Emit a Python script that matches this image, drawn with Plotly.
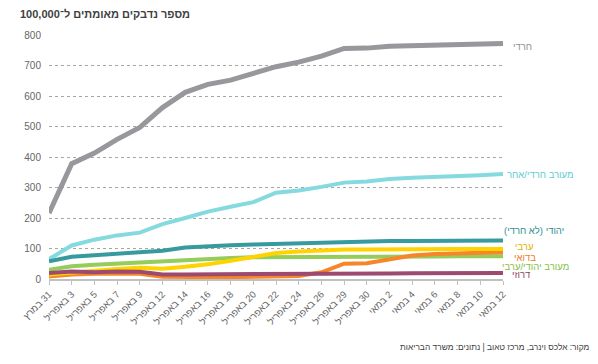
import plotly.graph_objects as go

RLM = "\u200F"

dates = ["31 במרץ", "3 באפריל", "5 באפריל", "7 באפריל", "9 באפריל", "12 באפריל",
         "14 באפריל", "16 באפריל", "18 באפריל", "20 באפריל", "22 באפריל", "24 באפריל",
         "26 באפריל", "29 באפריל", "30 באפריל", "2 במאי", "4 במאי", "6 במאי",
         "8 במאי", "10 במאי", "12 במאי"]

haredi = [216, 378, 413, 458, 497, 562, 612, 638, 652, 672, 696, 711, 731, 756, 757, 763, 765, 766, 769, 770, 772]
mixed_haredi = [65, 110, 129, 143, 152, 180, 200, 221, 237, 252, 283, 290, 302, 316, 320, 328, 332, 334, 339, 340, 344]
jewish = [58, 73, 78, 82, 86, 93, 103, 108, 111, 113, 115, 117, 121, 124, 124, 125, 125, 125, 125, 125, 126]
mixed_jew_arab = [30, 42, 47, 51, 53, 58, 62, 66, 69, 71, 71, 71, 72, 72, 73, 73, 74, 74, 75, 75, 75]
bedouin = [8, 15, 17, 18, 17, 7, 6, 6, 6, 7, 8, 10, 22, 50, 52, 66, 77, 82, 84, 86, 88]
arab = [15, 22, 27, 33, 37, 34, 40, 48, 60, 73, 85, 90, 95, 97, 97, 98, 98, 98, 98, 98, 98]
druze = [20, 25, 22, 25, 24, 15, 15, 15, 16, 16, 17, 17, 17, 18, 18, 18, 19, 19, 19, 19, 20]

title_text = "מספר נדבקים מאומתים ל־100,000"
source_text = "מקור: אלכס וינרב, מרכז טאוב | נתונים: משרד הבריאות"

series = [
    # name, values, line color, label color, width, label xshift, label yshift
    ("חרדי", haredi, "#97989b", "#8f9093", 5, 8, -3),
    ("מעורב חרדי/אחר", mixed_haredi, "#84dade", "#5ecdd2", 4, 2, 0),
    ("יהודי (לא חרדי)", jewish, "#379a9e", "#2f8f94", 4, -1, 10),
    ("מעורב יהודי/ערבי", mixed_jew_arab, "#95cc5a", "#86c04a", 4, -3, -10),
    ("בדואי", bedouin, "#f7852a", "#f07a1e", 4, 9, -5),
    ("ערבי", arab, "#ffd300", "#e2b100", 4, 10, 3),
    ("דרוזי", druze, "#9c4a70", "#8e3d64", 4, 7, -2),
]

fig = go.Figure()
for name, vals, col, lcol, w, xs, ys in series:
    fig.add_trace(go.Scatter(x=dates, y=vals, mode="lines", name=name,
                             line=dict(color=col, width=w), showlegend=False))
    fig.add_annotation(x=dates[-1], y=vals[-1], text=RLM + name + RLM,
                       showarrow=False, xanchor="left", yanchor="middle",
                       xshift=xs, yshift=ys,
                       font=dict(family="Arial, Liberation Sans", size=9.5, color=lcol))

fig.add_annotation(xref="paper", yref="paper", x=-0.068, y=1.055, xanchor="left", yanchor="bottom",
                   text="<b>" + RLM + title_text + RLM + "</b>", showarrow=False,
                   font=dict(family="Arial, Liberation Sans", size=11, color="#404040"))

fig.add_annotation(xref="paper", yref="paper", x=1.196, y=-0.279, xanchor="right", yanchor="middle",
                   text=RLM + source_text + RLM, showarrow=False,
                   font=dict(family="Arial, Liberation Sans", size=8.4, color="#404040"))

fig.update_layout(
    width=598, height=364,
    margin=dict(l=49, r=95, t=35, b=85),
    paper_bgcolor="white", plot_bgcolor="white",
    font=dict(family="Arial, Liberation Sans", color="#666666"),
)
fig.update_xaxes(
    type="category", range=[0, len(dates) - 1], automargin=False,
    tickvals=dates, ticktext=[RLM + d + RLM for d in dates],
    tickangle=-45, tickfont=dict(size=9.5, color="#666666"),
    showgrid=False, showline=True, linecolor="#c0c0c0", linewidth=2,
    ticks="outside", ticklen=4, tickcolor="#c0c0c0", tickwidth=1,
    zeroline=False,
)
fig.update_yaxes(
    range=[0, 800], tickvals=[0, 100, 200, 300, 400, 500, 600, 700, 800], automargin=False,
    tickfont=dict(size=10, color="#666666"),
    showgrid=True, gridcolor="#a6a6a6", griddash="dot", gridwidth=1,
    zeroline=False, showline=False, ticks="", ticklabelstandoff=7,
)

fig.write_html("out.html", config={"displayModeBar": False},
               post_script="document.body.style.margin='0px';document.body.style.overflow='hidden';")
